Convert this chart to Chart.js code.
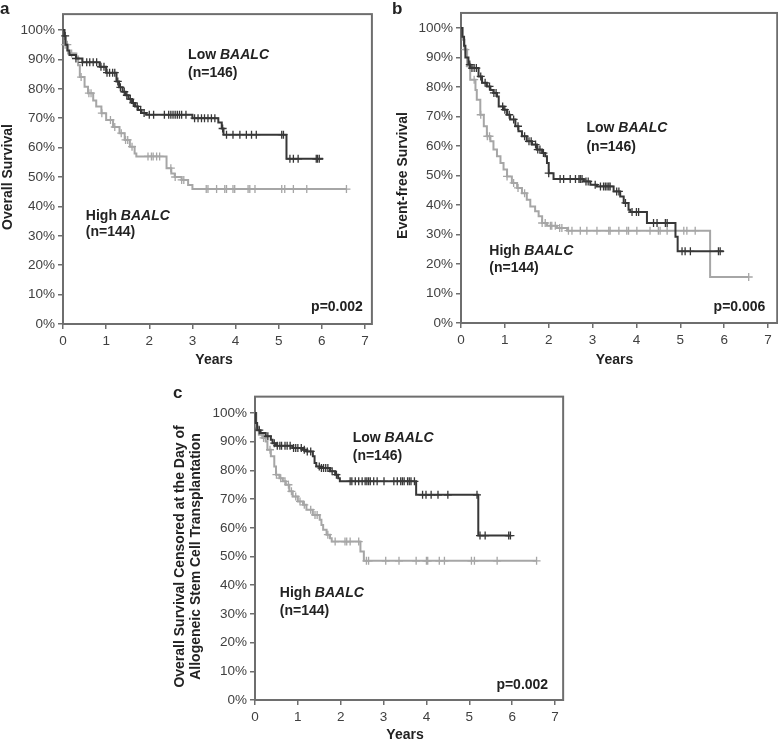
<!DOCTYPE html>
<html>
<head>
<meta charset="utf-8">
<script src="https://cdn.jsdelivr.net/npm/chart.js@4.4.1/dist/chart.umd.min.js"></script>
<style>
body{margin:0;background:#fff;width:778px;height:741px;position:relative;overflow:hidden;font-family:"Liberation Sans",Arial,sans-serif}
canvas{position:absolute}
.tag{position:absolute;font-weight:bold;font-size:17px;color:#222;z-index:2;line-height:17px}
</style>
</head>
<body>
<div class="tag" style="left:0px;top:0px">a</div>
<div class="tag" style="left:392px;top:0px">b</div>
<div class="tag" style="left:173px;top:384px">c</div>
<canvas id="chartA" width="390" height="370" style="left:0;top:0"></canvas>
<canvas id="chartB" width="388" height="370" style="left:390px;top:0"></canvas>
<canvas id="chartC" width="440" height="371" style="left:140px;top:370px"></canvas>
<script>
// ---------------- DATA ----------------
const xTicks = [0, 1, 2, 3, 4, 5, 6, 7];
const yTicks = [0, 10, 20, 30, 40, 50, 60, 70, 80, 90, 100];

// panel a - overall survival
const aLowT  = [0, 0.03, 0.06, 0.1, 0.15, 0.3, 0.45, 0.85, 1.0, 1.24, 1.3, 1.38, 1.45, 1.52, 1.6, 1.67, 1.74, 1.82, 1.93, 3.0, 3.6, 3.68, 3.72, 5.18, 6.03];
const aLowS  = [100, 98, 95, 93, 91.5, 90.3, 89, 87.5, 85.5, 82.5, 80.5, 79, 77.8, 76.5, 75.2, 74, 72.8, 71.8, 71.2, 70, 68.5, 66.5, 64.4, 56.2, 56.2];
const aLowC  = [0.05, 0.3, 0.45, 0.55, 0.62, 0.7, 0.78, 0.88, 0.95, 1.02, 1.08, 1.15, 1.2, 1.27, 1.33, 1.42, 1.48, 1.56, 1.63, 1.72, 1.8, 1.88, 2.0, 2.1, 2.35, 2.45, 2.5, 2.55, 2.6, 2.65, 2.7, 2.75, 2.85, 3.05, 3.13, 3.21, 3.28, 3.36, 3.44, 3.52, 3.7, 3.79, 3.94, 4.1, 4.25, 4.37, 4.48, 5.07, 5.11, 5.26, 5.34, 5.45, 5.87, 5.9, 5.94];
const aHighT = [0, 0.04, 0.12, 0.31, 0.35, 0.39, 0.5, 0.58, 0.7, 0.77, 0.89, 1.0, 1.16, 1.31, 1.43, 1.55, 1.66, 1.7, 2.4, 2.51, 2.59, 2.75, 2.9, 3.0, 6.57];
const aHighS = [100, 95, 92, 91, 88, 84, 80.7, 78.5, 76, 74, 71.7, 69.4, 67, 64.9, 62.6, 60.3, 58, 57, 53, 51.2, 50, 49, 47.3, 45.9, 45.9];
const aHighC = [0.05, 0.1, 0.2, 0.42, 0.6, 0.65, 0.9, 1.1, 1.2, 1.35, 1.45, 1.5, 1.6, 1.97, 2.05, 2.09, 2.17, 2.24, 2.5, 2.6, 2.75, 2.8, 3.32, 3.36, 3.56, 3.75, 3.79, 3.94, 3.98, 4.29, 4.33, 4.45, 5.07, 5.14, 5.34, 5.65, 6.57];

// panel b - event-free survival
const bLowT  = [0, 0.03, 0.07, 0.1, 0.17, 0.21, 0.4, 0.48, 0.59, 0.67, 0.74, 0.82, 0.86, 0.97, 1.05, 1.12, 1.24, 1.31, 1.39, 1.5, 1.62, 1.73, 1.85, 1.92, 1.96, 2.0, 2.11, 2.8, 2.95, 3.1, 3.48, 3.63, 3.71, 3.82, 3.86, 4.24, 4.89, 4.94, 5.99];
const bLowS  = [100, 97, 94, 90, 87.6, 86.4, 83.6, 81.4, 80.2, 79, 78, 76.8, 73.4, 72.3, 70.6, 69, 66.7, 65, 63.3, 61.6, 60.5, 58.8, 57.6, 56.5, 54.2, 50.8, 48.8, 48, 46.9, 46.3, 44.6, 42.9, 40.7, 38.4, 37.6, 33.9, 29.2, 24.3, 24.3];
const bLowC  = [0.2, 0.25, 0.3, 0.35, 0.45, 0.55, 0.65, 0.75, 0.8, 0.95, 1.0, 1.1, 1.2, 1.3, 1.45, 1.55, 1.6, 1.7, 1.75, 1.8, 1.88, 2.0, 2.26, 2.34, 2.49, 2.61, 2.69, 2.72, 2.76, 2.85, 2.9, 3.06, 3.18, 3.25, 3.29, 3.33, 3.37, 3.4, 3.55, 3.6, 3.75, 3.9, 4.0, 4.05, 4.39, 4.47, 4.66, 4.7, 5.04, 5.11, 5.23, 5.87, 5.91];
const bHighT = [0, 0.04, 0.08, 0.14, 0.21, 0.33, 0.36, 0.44, 0.52, 0.59, 0.67, 0.74, 0.82, 0.9, 0.97, 1.05, 1.16, 1.28, 1.39, 1.5, 1.58, 1.69, 1.77, 1.85, 1.96, 2.19, 2.42, 5.68, 6.56];
const bHighS = [100, 96, 92.7, 87, 82.5, 79, 75.7, 70.6, 66.7, 63.3, 61.6, 58.8, 56.5, 54.2, 52, 49.7, 47.5, 45.8, 44, 41.8, 39.5, 37.9, 36.2, 33.9, 33, 32.2, 31.3, 15.6, 15.6];
const bHighC = [0.1, 0.2, 0.3, 0.45, 0.6, 0.65, 1.05, 1.2, 1.3, 1.45, 1.85, 1.92, 2.04, 2.07, 2.15, 2.25, 2.3, 2.45, 2.53, 2.72, 2.87, 3.1, 3.37, 3.4, 3.6, 3.78, 3.82, 4.01, 4.31, 4.5, 4.54, 4.7, 5.08, 5.15, 5.34, 6.56];

// panel c - OS censored at allogeneic SCT
const cLowT  = [0, 0.02, 0.05, 0.13, 0.25, 0.37, 0.41, 0.49, 0.88, 1.12, 1.2, 1.35, 1.39, 1.43, 1.51, 1.75, 1.87, 1.94, 1.98, 3.76, 5.21, 5.96];
const cLowS  = [100, 96.5, 94, 93, 91.9, 90.7, 89.5, 88.6, 87.8, 87.2, 86.6, 84.9, 82.6, 81.4, 80.8, 79.7, 78.5, 77.3, 76.2, 71.5, 57.3, 57.3];
const cLowC  = [0.1, 0.3, 0.45, 0.52, 0.58, 0.62, 0.7, 0.75, 0.82, 0.9, 0.95, 1.0, 1.08, 1.15, 1.22, 1.3, 1.5, 1.55, 1.6, 1.65, 1.7, 1.8, 1.9, 2.22, 2.26, 2.34, 2.42, 2.5, 2.57, 2.61, 2.65, 2.69, 2.77, 2.85, 3.01, 3.24, 3.32, 3.4, 3.44, 3.48, 3.56, 3.6, 3.64, 3.72, 3.91, 3.99, 4.11, 4.27, 4.5, 5.18, 5.25, 5.37, 5.92, 5.96];
const cHighT = [0, 0.03, 0.09, 0.17, 0.25, 0.29, 0.37, 0.45, 0.49, 0.57, 0.65, 0.72, 0.8, 0.88, 1.0, 1.12, 1.2, 1.35, 1.51, 1.55, 1.59, 1.67, 1.75, 1.79, 2.46, 2.54, 6.57];
const cHighS = [100, 95.3, 92.4, 91.3, 90.1, 87.2, 84.9, 81.4, 78.5, 77.3, 76.2, 75, 72.7, 70.9, 69.2, 68, 66.3, 64.5, 62.8, 61, 59.3, 57.6, 56.4, 55.2, 51.7, 48.5, 48.5];
const cHighC = [0.2, 0.35, 0.5, 0.6, 0.7, 0.78, 0.85, 0.95, 1.05, 1.15, 1.3, 1.4, 1.45, 1.7, 1.87, 2.1, 2.14, 2.22, 2.42, 2.6, 2.65, 3.05, 3.36, 3.76, 4.0, 4.03, 4.3, 4.42, 5.05, 5.12, 5.65, 6.57];

const DARK = '#373737';
const LIGHT = '#a6a6a6';
const AXIS = '#6e6e6e';

// ---------------- HELPERS ----------------
function km(times, surv){
    return times.map((t,i)=>({x:t, y:surv[i]}));
}
// censor mark sits on the curve at that time
function censor(cens, times, surv){
    return cens.map(c=>{
        let s = surv[0];
        for (let i=0;i<times.length;i++){ if (times[i] <= c) s = surv[i]; }
        return {x:c, y:s};
    });
}

const framePlugin = {
    id:'frame',
    beforeDatasetsDraw(chart, args, o){
        const {ctx, scales:{x, y}} = chart;
        const l = x.getPixelForValue(0), r = x.getPixelForValue(o.xEnd);
        const b = y.getPixelForValue(0), t = y.getPixelForValue(o.yEnd);
        ctx.save();
        ctx.strokeStyle = AXIS;
        ctx.lineWidth = 2;
        ctx.strokeRect(l, t, r-l, b-t);
        ctx.restore();
    },
    afterDraw(chart, args, o){
        const {ctx, scales:{x, y}} = chart;
        ctx.save();
        ctx.fillStyle = '#222';
        ctx.textBaseline = 'middle';
        o.notes.forEach(n=>{
            let px = x.getPixelForValue(n.x);
            const py = y.getPixelForValue(n.y);
            let w = 0;
            n.parts.forEach(p=>{
                ctx.font = (p[1] ? 'italic ' : '') + 'bold 14px "Liberation Sans", Arial';
                w += ctx.measureText(p[0]).width;
            });
            if (n.align === 'right') px -= w;
            n.parts.forEach(p=>{
                ctx.font = (p[1] ? 'italic ' : '') + 'bold 14px "Liberation Sans", Arial';
                ctx.fillText(p[0], px, py);
                px += ctx.measureText(p[0]).width;
            });
        });
        ctx.restore();
    }
};

function makeChart(id, d){
    const lineDs = (data, color) => ({
        data:data, borderColor:color, borderWidth:2, pointRadius:0,
        stepped:true, showLine:true, fill:false, clip:10
    });
    const markDs = (data, color) => ({
        data:data, borderColor:color, backgroundColor:color, showLine:false,
        pointStyle:'cross', pointRadius:4, borderWidth:1.3, clip:10
    });

    return new Chart(document.getElementById(id),{
        type:'scatter',
        data:{
            datasets:[
                lineDs(km(d.lowT, d.lowS), DARK),
                markDs(censor(d.lowC, d.lowT, d.lowS), DARK),
                lineDs(km(d.highT, d.highS), LIGHT),
                markDs(censor(d.highC, d.highT, d.highS), LIGHT)
            ]
        },
        plugins:[framePlugin],
        options:{
            responsive:false,
            animation:false,
            devicePixelRatio:1,
            layout:{padding:d.pad},
            plugins:{
                legend:{display:false},
                tooltip:{enabled:false},
                frame:{xEnd:d.xEnd, yEnd:d.yEnd, notes:d.notes}
            },
            scales:{
                x:{
                    type:'linear', min:0, max:7,
                    afterBuildTicks: s => { s.ticks = xTicks.map(v=>({value:v})); },
                    afterFit: s => { s.height = d.xH; },
                    ticks:{color:'#404040', font:{size:13.5, family:'"Liberation Sans", Arial'}, padding:4, maxRotation:0},
                    grid:{drawOnChartArea:false, drawTicks:true, tickLength:5, color:AXIS, lineWidth:1.5},
                    border:{display:true, color:AXIS, width:2},
                    title:{display:true, text:'Years', color:'#222', padding:{top:0,bottom:d.xTitlePad},
                        font:{size:14, weight:'bold', family:'"Liberation Sans", Arial'}}
                },
                y:{
                    type:'linear', min:0, max:100,
                    afterBuildTicks: s => { s.ticks = yTicks.map(v=>({value:v})); },
                    afterFit: s => { s.width = d.yW; },
                    ticks:{color:'#404040', font:{size:13.5, family:'"Liberation Sans", Arial'}, padding:3,
                        callback: v => v + '%'},
                    grid:{drawOnChartArea:false, drawTicks:true, tickLength:5, color:AXIS, lineWidth:1.5},
                    border:{display:true, color:AXIS, width:2},
                    title:{display:true, text:d.yTitle, color:'#222', padding:{top:0,bottom:0},
                        font:{size:14, weight:'bold', family:'"Liberation Sans", Arial', lineHeight:1.15}}
                }
            }
        }
    });
}

// ---------------- PANELS ----------------
makeChart('chartA',{
    lowT:aLowT, lowS:aLowS, lowC:aLowC, highT:aHighT, highS:aHighS, highC:aHighC,
    pad:{left:0, top:30, right:25, bottom:0}, yW:63, xH:46, xTitlePad:1,
    xEnd:7.16, yEnd:105.4, yTitle:'Overall Survival',
    notes:[
        {x:2.9, y:91.5, parts:[['Low ',false],['BAALC',true]]},
        {x:2.9, y:85.4, parts:[['(n=146)',false]]},
        {x:0.53, y:36.7, parts:[['High ',false],['BAALC',true]]},
        {x:0.53, y:31.3, parts:[['(n=144)',false]]},
        {x:6.95, y:5.8, parts:[['p=0.002',false]], align:'right'}
    ]
});

makeChart('chartB',{
    lowT:bLowT, lowS:bLowS, lowC:bLowC, highT:bHighT, highS:bHighS, highC:bHighC,
    pad:{left:5, top:28, right:10, bottom:0}, yW:66, xH:47, xTitlePad:1,
    xEnd:7.21, yEnd:105.1, yTitle:'Event-free Survival',
    notes:[
        {x:2.86, y:66.1, parts:[['Low ',false],['BAALC',true]]},
        {x:2.86, y:59.7, parts:[['(n=146)',false]]},
        {x:0.645, y:24.4, parts:[['High ',false],['BAALC',true]]},
        {x:0.645, y:18.6, parts:[['(n=144)',false]]},
        {x:6.94, y:5.4, parts:[['p=0.006',false]], align:'right'}
    ]
});

makeChart('chartC',{
    lowT:cLowT, lowS:cLowS, lowC:cLowC, highT:cHighT, highS:cHighS, highC:cHighC,
    pad:{left:32, top:43, right:25, bottom:0}, yW:83, xH:41, xTitlePad:-3,
    xEnd:7.19, yEnd:105.7,
    yTitle:['Overall Survival Censored at the Day of','Allogeneic Stem Cell Transplantation'],
    notes:[
        {x:2.28, y:91.4, parts:[['Low ',false],['BAALC',true]]},
        {x:2.28, y:85.1, parts:[['(n=146)',false]]},
        {x:0.58, y:37.3, parts:[['High ',false],['BAALC',true]]},
        {x:0.58, y:31.0, parts:[['(n=144)',false]]},
        {x:6.84, y:5.2, parts:[['p=0.002',false]], align:'right'}
    ]
});
</script>
</body>
</html>
